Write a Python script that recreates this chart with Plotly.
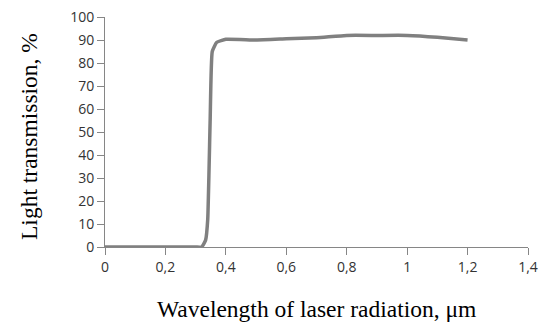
import plotly.graph_objects as go

wavelength = [0, 0.1, 0.2, 0.3, 0.32, 0.333, 0.34, 0.348, 0.355, 0.37, 0.4, 0.5, 0.6, 0.7, 0.8, 0.9, 1.0, 1.1, 1.2]
transmission = [0, 0, 0, 0, 0, 3, 12, 55, 85, 89, 90.3, 90, 90.5, 91, 92, 92, 92, 91.2, 90]

x_tickvals = [0, 0.2, 0.4, 0.6, 0.8, 1.0, 1.2, 1.4]
x_ticktext = ["0", "0,2", "0,4", "0,6", "0,8", "1", "1,2", "1,4"]
y_tickvals = [0, 10, 20, 30, 40, 50, 60, 70, 80, 90, 100]

fig = go.Figure()
fig.add_trace(go.Scatter(
    x=wavelength, y=transmission, mode="lines",
    line=dict(color="#808080", width=3.5, shape="spline", smoothing=0.4),
    showlegend=False, hoverinfo="skip", cliponaxis=False,
))

axis_common = dict(
    showgrid=False, zeroline=False, showline=True, linecolor="#868686", linewidth=1,
    ticks="outside", ticklen=7, tickcolor="#868686", automargin=False,
    tickfont=dict(family="Open Sans", size=14, color="#333333"),
)

fig.update_layout(
    width=544, height=327,
    margin=dict(l=105, r=16, t=17, b=80, autoexpand=False),
    paper_bgcolor="white", plot_bgcolor="white",
    xaxis=dict(range=[0, 1.4], tickvals=x_tickvals, ticktext=x_ticktext, **axis_common),
    yaxis=dict(range=[0, 100], tickvals=y_tickvals, **axis_common),
    annotations=[
        dict(text="Wavelength of laser radiation, μm", xref="paper", yref="paper",
             x=0.5, y=0, yshift=-62, xanchor="center", yanchor="middle", showarrow=False,
             font=dict(family="Liberation Serif", size=23.5, color="black")),
        dict(text="Light transmission, %", xref="paper", yref="paper",
             x=0, y=0.5, xshift=-76, yshift=-5, xanchor="center", yanchor="middle",
             showarrow=False, textangle=-90,
             font=dict(family="Liberation Serif", size=23.5, color="black")),
    ],
)

fig.write_html("out.html", config={"displayModeBar": False},
               post_script="document.body.style.margin='0';document.body.style.padding='0';")
